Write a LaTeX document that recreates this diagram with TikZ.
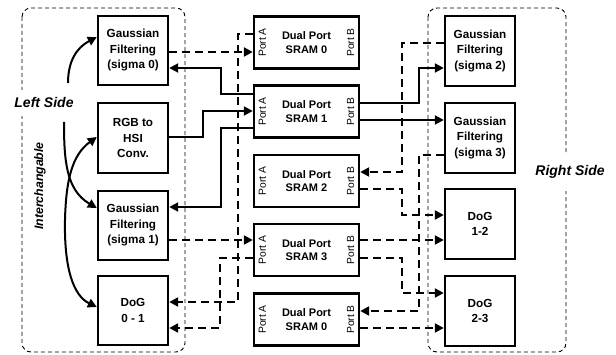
\documentclass[tikz,border=0pt]{standalone}
\usepackage{fontspec}
\setmainfont{Liberation Sans}
\usetikzlibrary{arrows.meta}
\begin{document}
\begin{tikzpicture}[x=1pt,y=-1pt,
  blk/.style={draw,line width=2.4pt,minimum width=70pt,minimum height=69pt,inner sep=0pt,align=center,
    font=\bfseries\fontsize{11.7}{15.5}\selectfont},
  sram/.style={draw,line width=2.4pt,minimum width=105pt,minimum height=52pt,inner sep=0pt,align=center,
    font=\bfseries\fontsize{11}{13.5}\selectfont},
  port/.style={rotate=90,inner sep=0pt,font=\fontsize{10.3}{11}\selectfont},
  region/.style={draw,line width=0.9pt,dash pattern=on 4pt off 3pt,rounded corners=9pt},
  sarr/.style={line width=2pt,-{Triangle[length=9pt,width=9pt]}},
  darr/.style={line width=2.3pt,dash pattern=on 8pt off 5pt,-{Triangle[length=9pt,width=9pt]}},
  carr/.style={line width=2pt,-{Triangle[length=9pt,width=9pt]}},
  side/.style={fill=white,font=\bfseries\itshape\fontsize{14}{16}\selectfont}
]
\useasboundingbox (0,0) rectangle (616,355);
% regions
\draw[region] (22,8) rectangle (185,352);
\draw[region] (428,8) rectangle (566,352);
\node[side,inner xsep=1pt,inner ysep=8pt] (lside) at (44,103) {Left Side};
\node[side,inner xsep=1pt,inner ysep=12pt] (rside) at (570,172) {Right Side};
\node[rotate=90,font=\bfseries\itshape\fontsize{12.3}{13}\selectfont] (inter) at (40,186) {Interchangable};
% left blocks
\node[blk] (g0) at (133,50.5) {Gaussian\\Filtering\\(sigma 0)};
\node[blk,minimum height=70pt] (rgb) at (133,138) {RGB to\\HSI\\Conv.};
\node[blk] (g1) at (133,225.5) {Gaussian\\Filtering\\(sigma 1)};
\node[blk] (d01) at (133,310.5) {DoG\\0 - 1};
% right blocks
\node[blk,minimum height=70pt] (g2) at (480,51) {Gaussian\\Filtering\\(sigma 2)};
\node[blk,minimum height=70pt] (g3) at (480,138) {Gaussian\\Filtering\\(sigma 3)};
\node[blk,minimum height=70pt] (d12) at (480,224) {DoG\\1-2};
\node[blk,minimum height=70pt] (d23) at (480,311) {DoG\\2-3};
% SRAMs
\node[sram] (s0) at (306.5,42.5) {Dual Port\\SRAM 0};
\node[sram] (s1) at (306.5,111.5) {Dual Port\\SRAM 1};
\node[sram] (s2) at (306.5,181) {Dual Port\\SRAM 2};
\node[sram] (s3) at (306.5,250) {Dual Port\\SRAM 3};
\node[sram] (s4) at (306.5,319.5) {Dual Port\\SRAM 0};
\foreach \s in {s0,s1,s2,s3,s4}{
  \node[port] (pa\s) at ([xshift=9.5pt]\s.west) {Port A};
  \node[port] (pb\s) at ([xshift=-9.5pt]\s.east) {Port B};
}
% left connectors
\draw[darr] (g0.east |- 0,52) -- (s0.west |- 0,52);
\draw[sarr] (s1.west |- 0,94) -- (221,94) -- (221,68) -- (g0.east |- 0,68);
\draw[sarr] (rgb.east |- 0,137) -- (203,137) -- (203,111) -- (s1.west |- 0,111);
\draw[sarr] (s1.west |- 0,128) -- (221,128) -- (221,207) -- (g1.east |- 0,207);
\draw[darr] (s0.west |- 0,34) -- (238,34) -- (238,302) -- (d01.east |- 0,302);
\draw[darr] (g1.east |- 0,240) -- (s3.west |- 0,240);
\draw[darr] (s3.west |- 0,258) -- (220,258) -- (220,328) -- (d01.east |- 0,328);
% right connectors
\draw[darr] (g2.west |- 0,43) -- (402,43) -- (402,172) -- (s2.east |- 0,172);
\draw[sarr] (s1.east |- 0,103) -- (419,103) -- (419,68) -- (g2.west |- 0,68);
\draw[sarr] (s1.east |- 0,120) -- (g3.west |- 0,120);
\draw[darr] (g3.west |- 0,155) -- (419,155) -- (419,311) -- (s4.east |- 0,311);
\draw[darr] (s2.east |- 0,189) -- (402,189) -- (402,215) -- (d12.west |- 0,215);
\draw[darr] (s3.east |- 0,240) -- (d12.west |- 0,240);
\draw[darr] (s3.east |- 0,258) -- (402,258) -- (402,293) -- (d23.west |- 0,293);
\draw[darr] (s4.east |- 0,328) -- (d23.west |- 0,328);
% interchange curves
\coordinate (t1) at (68,83);
\coordinate (t2) at (64,122);
\draw[carr] (t1) .. controls (68,62) and (76,48) .. (g0.west |- 0,37);
\draw[carr] (t2) .. controls (64,160) and (66,190) .. (g1.west |- 0,208);
\draw[line width=2pt,{Triangle[length=9pt,width=9pt]}-{Triangle[length=9pt,width=9pt]}]
  (rgb.west |- 0,137) .. controls (72,155) and (66,180) .. (65,220)
  .. controls (64,270) and (74,296) .. (d01.west |- 0,307);
\end{tikzpicture}
\end{document}
